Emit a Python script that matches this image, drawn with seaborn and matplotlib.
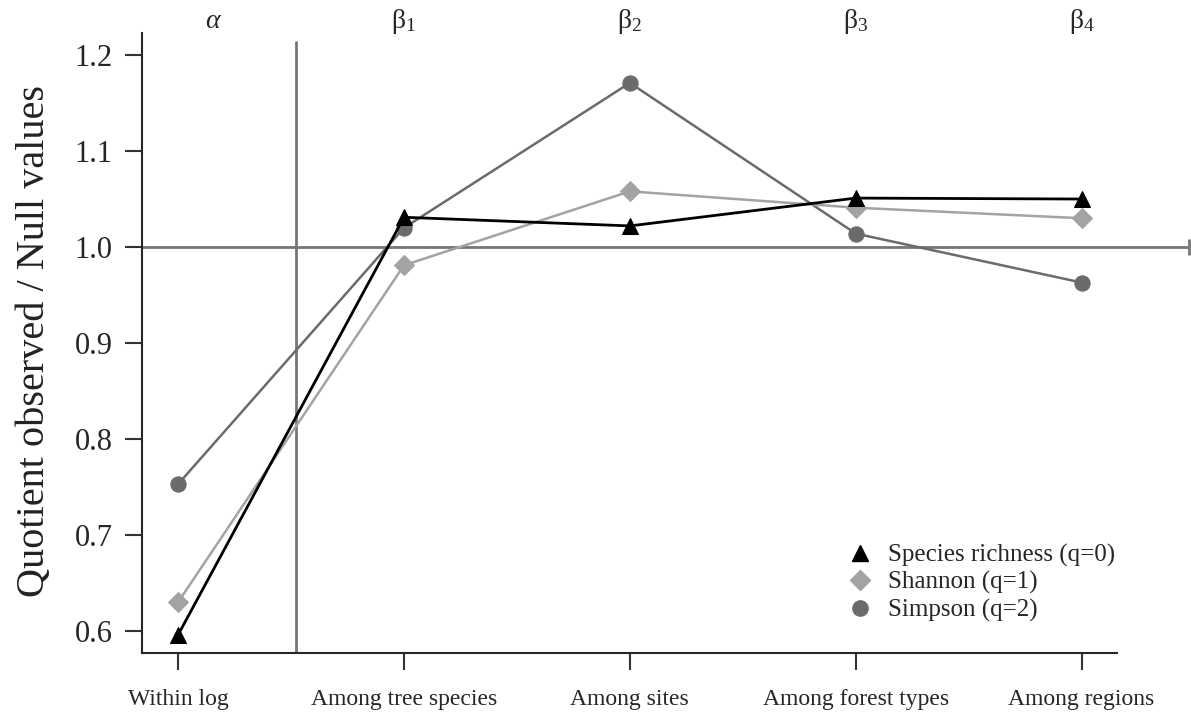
import matplotlib
matplotlib.use("Agg")
import matplotlib.pyplot as plt
import seaborn as sns
import pandas as pd
from matplotlib.lines import Line2D

categories = ["Within log", "Among tree species", "Among sites", "Among forest types", "Among regions"]
levels = [r"$\alpha$", r"$\mathrm{\beta}_1$", r"$\mathrm{\beta}_2$", r"$\mathrm{\beta}_3$", r"$\mathrm{\beta}_4$"]
richness = [0.596, 1.031, 1.022, 1.051, 1.050]
shannon = [0.630, 0.981, 1.058, 1.041, 1.030]
simpson = [0.753, 1.020, 1.171, 1.014, 0.963]
series_names = ["Species richness (q=0)", "Shannon (q=1)", "Simpson (q=2)"]
yticks = [0.6, 0.7, 0.8, 0.9, 1.0, 1.1, 1.2]

sns.set_style("ticks")
plt.rcParams["font.family"] = ["Liberation Serif", "DejaVu Serif"]
plt.rcParams["mathtext.fontset"] = "custom"
plt.rcParams["mathtext.rm"] = "Liberation Serif"
plt.rcParams["mathtext.it"] = "Liberation Serif:italic"

fig = plt.figure(figsize=(11.91, 7.15), dpi=100)
ax = fig.add_axes([142 / 1191, 1 - 653 / 715, 1048 / 1191, 620 / 715])

x = list(range(len(categories)))
df = pd.DataFrame({
    "x": x * 3,
    "value": richness + shannon + simpson,
    "series": [series_names[0]] * 5 + [series_names[1]] * 5 + [series_names[2]] * 5,
})

styles = {
    series_names[2]: dict(color="#6b6b6b", marker="o", ms=11, lw=1.8),
    series_names[1]: dict(color="#a3a3a3", marker="D", ms=10, lw=1.8),
    series_names[0]: dict(color="#000000", marker="^", ms=11, lw=2.0),
}

xmin, xmax = -0.16, 4.48
ax.axhline(1.0, color="#767676", lw=2, zorder=1)
ax.plot([xmax - 0.005], [1.0], marker="|", ms=12, mew=2, color="#767676", clip_on=False)
ax.axvline(0.52, ymax=(1.2135 - 0.577) / (1.223 - 0.577), color="#767676", lw=2, zorder=1)

for name in [series_names[2], series_names[1], series_names[0]]:
    st = styles[name]
    sub = df[df["series"] == name]
    sns.lineplot(data=sub, x="x", y="value", ax=ax, color=st["color"], lw=st["lw"],
                 marker=st["marker"], markersize=st["ms"], markeredgecolor=st["color"],
                 markerfacecolor=st["color"], zorder=3, legend=False)

ax.set_xlim(xmin, xmax)
ax.set_ylim(0.577, 1.223)
ax.set_xticks(x)
ax.set_xticklabels(categories, fontsize=17)
ax.set_yticks(yticks)
ax.set_yticklabels([f"{v:.1f}" for v in yticks], fontsize=22)
ax.tick_params(axis="both", length=12, width=1.5, color="#333333", direction="out")
ax.tick_params(axis="x", pad=14)
ax.tick_params(axis="y", pad=9)
ax.set_xlabel("")
ax.set_ylabel("Quotient observed / Null values", fontsize=29, color="#222222")
ax.yaxis.set_label_coords(-0.085, 1 - (341 - 33) / 620)

for side in ["top", "right"]:
    ax.spines[side].set_visible(False)
ax.spines["left"].set_linewidth(1.5)
ax.spines["bottom"].set_linewidth(1.5)
ax.spines["bottom"].set_bounds(xmin, 4.155)

level_x = [0.155, 1, 2, 3, 4]
for lx, lab in zip(level_x, levels):
    ax.text(lx, 1.2282, lab, fontsize=20, ha="center", va="baseline", clip_on=False)

handles = [
    Line2D([], [], ls="none", marker="^", ms=11, color="#000000"),
    Line2D([], [], ls="none", marker="D", ms=10, color="#a3a3a3"),
    Line2D([], [], ls="none", marker="o", ms=11, color="#6b6b6b"),
]
ax.legend(handles, series_names, loc="lower left", bbox_to_anchor=(0.673, 0.05),
          frameon=False, fontsize=18, handletextpad=0.62, labelspacing=0.18,
          handlelength=1.0, borderaxespad=0, borderpad=0)

fig.savefig("out.png", dpi=100)
